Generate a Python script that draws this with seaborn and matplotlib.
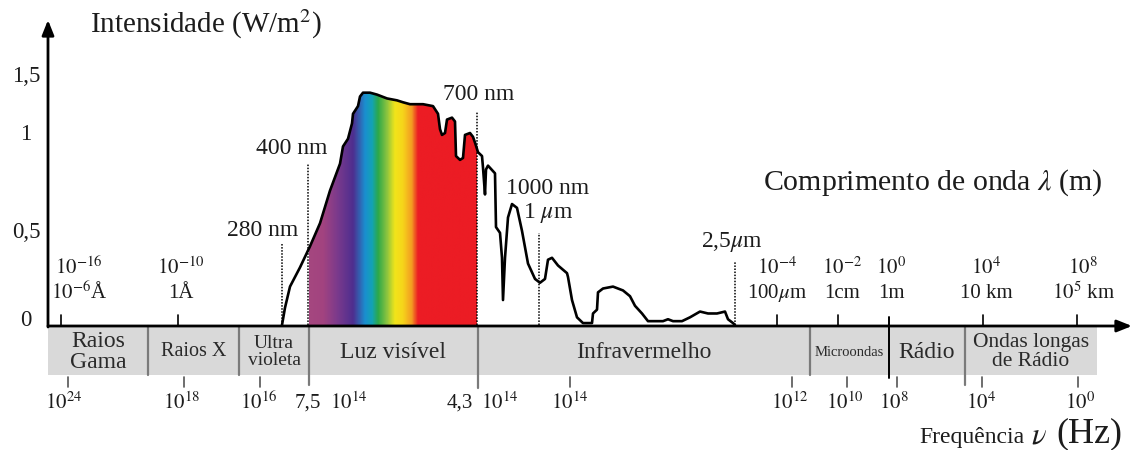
import numpy as np
import matplotlib
matplotlib.use("Agg")
import matplotlib.pyplot as plt
import seaborn as sns
from matplotlib.colors import LinearSegmentedColormap

# --- dados ---

# curva de intensidade: posição no eixo esquemático e intensidade (W/m2)
curva_x = [282, 285, 290, 300, 310, 320, 330, 335, 340, 343, 348, 352, 353, 358, 360, 363,
           370, 377, 387, 397, 403, 410, 423, 433, 438, 440, 442, 445, 447, 452, 455, 456,
           460, 463, 465, 470, 473, 475, 478, 482, 483, 484, 485, 486, 488, 495, 496, 500,
           502, 503, 505, 508, 512, 517, 522, 528, 535, 540, 545, 548, 552, 558, 567, 568,
           572, 577, 583, 592, 593, 597, 598, 603, 613, 623, 630, 635, 642, 648, 663, 668,
           673, 682, 690, 700, 708, 717, 725, 728, 733, 735]
curva_i = [0.00, 0.09, 0.20, 0.30, 0.41, 0.53, 0.70, 0.77, 0.84, 0.93, 0.97, 1.05, 1.10, 1.14,
           1.19, 1.21, 1.21, 1.20, 1.18, 1.17, 1.16, 1.15, 1.15, 1.14, 1.10, 1.02, 0.99, 1.00,
           1.07, 1.08, 1.06, 0.88, 0.86, 0.87, 0.99, 1.00, 0.98, 0.95, 0.90, 0.88, 0.82, 0.75,
           0.68, 0.81, 0.83, 0.79, 0.51, 0.48, 0.35, 0.13, 0.35, 0.56, 0.63, 0.61, 0.49, 0.32,
           0.24, 0.22, 0.24, 0.34, 0.35, 0.31, 0.27, 0.25, 0.13, 0.04, 0.01, 0.01, 0.06, 0.08,
           0.17, 0.19, 0.20, 0.18, 0.15, 0.10, 0.06, 0.02, 0.02, 0.03, 0.02, 0.02, 0.04, 0.07,
           0.06, 0.06, 0.07, 0.03, 0.01, 0.00]

# cores do espectro visível (posição, cor)
espectro_pos = [309, 323, 337, 353, 365, 372, 378, 387, 395, 403, 412, 418, 477]
espectro_cores = ["#a5477f", "#a24380", "#7b3a8c", "#4e2e8f", "#1a8fcf", "#13a3b5", "#2ca84a",
                  "#8cc43f", "#f2e51a", "#f6d51a", "#f39a22", "#ec1c24", "#ec1c24"]

# faixas do espectro
faixas_nomes = ["Raios\nGama", "Raios X", "Ultra\nvioleta", "Luz visível", "Infravermelho",
                "Microondas", "Rádio", "Ondas longas\nde Rádio"]
faixas_limites = [48, 148, 239, 309, 478, 810, 889, 965, 1097]
faixas_fonte = [17, 14.5, 14, 17, 17, 10.5, 17, 15.5]

# comprimento de onda (acima do eixo)
lambda_ticks = [61, 178, 777, 838, 983, 1077]
lambda_pos = [79, 181, 777, 842, 891, 986, 1083]
lambda_exp = [r"$10^{-16}$", r"$10^{-10}$", r"$10^{-4}$", r"$10^{-2}$", r"$10^{0}$", r"$10^{4}$", r"$10^{8}$"]
lambda_nomes = [r"$10^{-6}$Å", "1Å", r"100$\mu$m", "1cm", "1m", "10 km", r"$10^{5}$ km"]

# frequência (abaixo da barra)
freq_ticks = [68, 184, 260, 570, 792, 847, 897, 982, 1078]
freq_pos = [64, 182, 259, 308, 349, 460, 500, 570, 790, 845, 894, 981, 1080]
freq_labels = [r"$10^{24}$", r"$10^{18}$", r"$10^{16}$", "7,5", r"$10^{14}$", "4,3", r"$10^{14}$",
               r"$10^{14}$", r"$10^{12}$", r"$10^{10}$", r"$10^{8}$", r"$10^{4}$", r"$10^{0}$"]

# marcas em nm
marcas_x = [282, 308, 477, 539, 735]
marcas_topo = [0.42, 0.84, 1.11, 0.48, 0.33]
marcas_txt = ["280 nm", "400 nm", "700 nm", "1000 nm", r"1 $\mu$m", r"2,5$\mu$m"]
marcas_txt_pos = [(263, 230), (292, 148), (479, 95), (548, 188), (548, 213), (732, 242)]

# --- figura ---
sns.set_theme(style="white")
plt.rcParams["font.family"] = ["Liberation Serif", "DejaVu Serif"]
plt.rcParams["mathtext.fontset"] = "stix"
cor_txt = "#1c1c1c"


def Y(p):
    # posição vertical em pixels -> unidades de intensidade
    return (325 - p) / 192


fig = plt.figure(figsize=(11.32, 4.5), dpi=100)
ax = fig.add_axes([0, 0, 1, 1])
ax.set_xlim(0, 1132)
ax.set_ylim(Y(450), Y(0))
ax.axis("off")

# preenchimento colorido do visível
xs = np.linspace(espectro_pos[0], espectro_pos[-1], 400)
topo = np.interp(xs, curva_x, curva_i)
poly = ax.fill_between(xs, 0, topo, color="none", lw=0)
pos_norm = [(p - espectro_pos[0]) / (espectro_pos[-1] - espectro_pos[0]) for p in espectro_pos]
cmap = LinearSegmentedColormap.from_list("espectro", list(zip(pos_norm, espectro_cores)))
grad = np.linspace(0, 1, 400)[None, :]
img = ax.imshow(grad, cmap=cmap, aspect="auto", origin="lower",
                extent=[espectro_pos[0], espectro_pos[-1], 0, 1.3], zorder=2)
img.set_clip_path(poly.get_paths()[0], transform=ax.transData)

# curva
sns.lineplot(x=curva_x, y=curva_i, sort=False, estimator=None, color="black", lw=1.9, ax=ax, zorder=4)

# linhas pontilhadas
ax.vlines(marcas_x, 0, marcas_topo, colors="black", lw=1.1, linestyles=(0, (1, 1)), zorder=3)
for txt, (x, p) in zip(marcas_txt, marcas_txt_pos):
    ax.text(x, Y(p), txt, ha="center", va="center", fontsize=17, color=cor_txt)

# barra cinza das faixas
ax.fill_between([faixas_limites[0], faixas_limites[-1]], Y(327), Y(375), color="#d9d9d9", lw=0, zorder=1)
extensao = {309: 385, 478: 388, 965: 385}
for x in faixas_limites[1:-1]:
    if x == 889:
        ax.plot([x, x], [Y(317), Y(378)], color="black", lw=1.4, zorder=5)
    else:
        ax.plot([x, x], [Y(326), Y(extensao.get(x, 375))], color="#7a7a7a", lw=1.6, zorder=5)
for i, nome in enumerate(faixas_nomes):
    cx = (faixas_limites[i] + faixas_limites[i + 1]) / 2
    ax.text(cx, Y(352), nome, ha="center", va="center", fontsize=faixas_fonte[i],
            color="#2a2a2a", linespacing=0.95)

# eixos com setas
ax.annotate("", xy=(1132, Y(326)), xytext=(48, Y(326)),
            arrowprops=dict(arrowstyle="-|>,head_length=0.75,head_width=0.3", lw=2,
                            color="black", shrinkA=0, shrinkB=0), zorder=6)
ax.annotate("", xy=(48, Y(20)), xytext=(48, Y(327)),
            arrowprops=dict(arrowstyle="-|>,head_length=0.75,head_width=0.3", lw=2,
                            color="black", shrinkA=0, shrinkB=0), zorder=6)

# rótulos do eixo vertical
for lab, p in zip(["1,5", "1", "0,5", "0"], [77, 135, 232, 320]):
    ax.text(26, Y(p), lab, ha="center", va="center", fontsize=16.5, color=cor_txt)
ax.text(90, Y(24), r"Intensidade (W/m$^{2}$)", ha="left", va="center", fontsize=21, color=cor_txt)

# comprimento de onda
for x in lambda_ticks:
    ax.plot([x, x], [Y(315), Y(326)], color="black", lw=1.2)
for x, e, n in zip(lambda_pos, lambda_exp, lambda_nomes):
    ax.text(x, Y(268), e, ha="center", va="center", fontsize=15, color=cor_txt)
    ax.text(x, Y(293), n, ha="center", va="center", fontsize=15, color=cor_txt)
ax.text(933, Y(183), r"Comprimento de onda $\lambda$ (m)", ha="center", va="center",
        fontsize=21.5, color=cor_txt)

# frequência
for x in freq_ticks:
    ax.plot([x, x], [Y(377), Y(387)], color="#555555", lw=1.2)
for x, lab in zip(freq_pos, freq_labels):
    ax.text(x, Y(403), lab, ha="center", va="center", fontsize=15, color=cor_txt)
ax.text(1024, Y(438), "Frequência", ha="right", va="center", fontsize=17, color=cor_txt)
ax.text(1039, Y(436), r"$\nu$", ha="center", va="center", fontsize=22, color=cor_txt)
ax.text(1122, Y(434), "(Hz)", ha="right", va="center", fontsize=26, color=cor_txt)

fig.savefig("out.png", dpi=100, facecolor="white")
